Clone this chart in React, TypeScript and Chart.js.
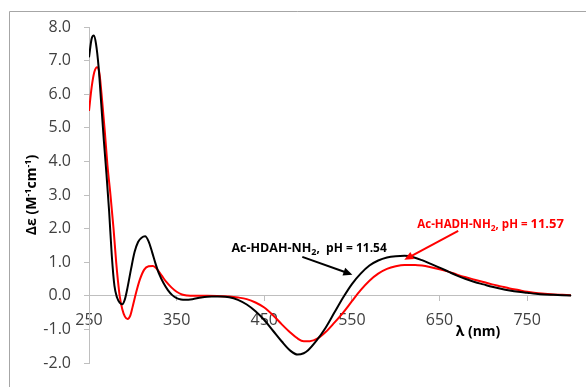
import { useEffect, useRef } from "react";
import { Chart, registerables } from "chart.js";

Chart.register(...registerables);

// Ac-HDAH-NH2, pH = 11.54 (black trace)
const hdahWavelength = [
  250, 253, 255.5, 258, 261, 264, 267, 270, 273, 276, 279, 282, 285, 288, 291, 294, 298, 302, 306, 310,
  314, 318, 322, 326, 330, 335, 340, 345, 350, 355, 360, 368, 378, 390, 400, 410, 420, 430, 440, 450,
  460, 470, 480, 488, 495, 500, 510, 520, 530, 540, 550, 560, 570, 580, 590, 600, 610, 620, 630, 640,
  650, 660, 670, 680, 690, 700, 710, 720, 730, 740, 750, 760, 770, 780, 790, 800,
];
const hdahDelta = [
  7.1, 7.65, 7.75, 7.5, 6.8, 5.7, 4.6, 3.6, 2.5, 1.2, 0.3, -0.05, -0.2, -0.25, -0.1, 0.25, 0.8, 1.3, 1.6, 1.73,
  1.77, 1.62, 1.3, 0.95, 0.65, 0.38, 0.17, 0.02, -0.07, -0.11, -0.12, -0.1, -0.05, -0.02, -0.02, -0.04, -0.12, -0.26, -0.46, -0.72,
  -1.04, -1.36, -1.64, -1.75, -1.71, -1.62, -1.32, -0.95, -0.5, -0.05, 0.35, 0.66, 0.9, 1.05, 1.14, 1.18, 1.19, 1.15, 1.06, 0.95,
  0.84, 0.72, 0.6, 0.5, 0.41, 0.34, 0.27, 0.21, 0.16, 0.12, 0.09, 0.06, 0.04, 0.03, 0.02, 0.01,
];

// Ac-HADH-NH2, pH = 11.57 (red trace)
const hadhWavelength = [
  250, 253, 256, 259.3, 262, 265, 268, 271, 274.5, 278, 281, 283, 285, 288, 291, 294, 297, 300, 304, 308,
  313, 318, 323, 328, 333, 338, 344, 350, 356, 362, 370, 385, 400, 410, 420, 430, 440, 450, 460, 470,
  480, 488, 495, 502, 511, 520, 530, 540, 550, 560, 570, 580, 590, 600, 610, 622, 630, 640, 650,
  660, 670, 680, 690, 700, 710, 720, 730, 740, 750, 760, 770, 780, 790, 800,
];
const hadhDelta = [
  5.5, 6.2, 6.65, 6.8, 6.6, 5.8, 4.9, 3.9, 3.0, 2.0, 1.0, 0.45, 0.0, -0.4, -0.62, -0.69, -0.6, -0.3, 0.12, 0.48,
  0.78, 0.88, 0.89, 0.78, 0.6, 0.42, 0.25, 0.12, 0.04, 0.01, 0.0, 0.0, -0.01, -0.02, -0.05, -0.1, -0.2, -0.35, -0.58, -0.85,
  -1.1, -1.27, -1.35, -1.35, -1.27, -1.08, -0.8, -0.5, -0.16, 0.17, 0.45, 0.66, 0.8, 0.88, 0.92, 0.92, 0.9, 0.85, 0.79,
  0.72, 0.63, 0.55, 0.48, 0.41, 0.34, 0.28, 0.22, 0.17, 0.12, 0.08, 0.06, 0.04, 0.03, 0.02,
];

const xTickValues = [250, 350, 450, 550, 650, 750];
const xMin = 250;
const xMax = 800;
const yMin = -2;
const yMax = 8;

const FONT = "'Open Sans', 'DejaVu Sans', sans-serif";
const AXIS_GRAY = "#bfbfbf";
const LABEL_GRAY = "#404040";

type Run = { text: string; size: number; dy?: number };

function drawRuns(ctx: CanvasRenderingContext2D, runs: Run[], x: number, y: number, color: string) {
  ctx.save();
  ctx.fillStyle = color;
  ctx.textBaseline = "alphabetic";
  ctx.textAlign = "left";
  let cx = x;
  for (const r of runs) {
    ctx.font = `bold ${r.size}px ${FONT}`;
    ctx.fillText(r.text, cx, y + (r.dy || 0));
    cx += ctx.measureText(r.text).width;
  }
  ctx.restore();
}

function drawArrow(ctx: CanvasRenderingContext2D, x1: number, y1: number, x2: number, y2: number, color: string) {
  const ang = Math.atan2(y2 - y1, x2 - x1);
  const head = 9;
  const half = 4;
  ctx.save();
  ctx.strokeStyle = color;
  ctx.fillStyle = color;
  ctx.lineWidth = 2;
  ctx.beginPath();
  ctx.moveTo(x1, y1);
  ctx.lineTo(x2 - Math.cos(ang) * head * 0.8, y2 - Math.sin(ang) * head * 0.8);
  ctx.stroke();
  ctx.beginPath();
  ctx.moveTo(x2, y2);
  ctx.lineTo(x2 - Math.cos(ang) * head - Math.sin(ang) * half, y2 - Math.sin(ang) * head + Math.cos(ang) * half);
  ctx.lineTo(x2 - Math.cos(ang) * head + Math.sin(ang) * half, y2 - Math.sin(ang) * head - Math.cos(ang) * half);
  ctx.closePath();
  ctx.fill();
  ctx.restore();
}

const decorations = {
  id: "decorations",
  beforeDraw(chart: any) {
    const ctx = chart.ctx as CanvasRenderingContext2D;
    ctx.save();
    ctx.fillStyle = "#ffffff";
    ctx.fillRect(0, 0, chart.width, chart.height);
    ctx.strokeStyle = "#a6a6a6";
    ctx.lineWidth = 1;
    ctx.beginPath();
    ctx.moveTo(9.5, chart.height);
    ctx.lineTo(9.5, 11.5);
    ctx.lineTo(chart.width, 11.5);
    ctx.stroke();
    ctx.restore();
  },
  afterDatasetsDraw(chart: any) {
    const ctx = chart.ctx as CanvasRenderingContext2D;
    const xs = chart.scales.x;
    const ys = chart.scales.y;
    const px = (v: number) => xs.getPixelForValue(v);
    const py = (v: number) => ys.getPixelForValue(v);

    // y axis title, rotated
    ctx.save();
    ctx.translate(31, (chart.chartArea.top + chart.chartArea.bottom) / 2);
    ctx.rotate(-Math.PI / 2);
    const titleRuns: Run[] = [
      { text: "Δε (M", size: 14 },
      { text: "-1", size: 9, dy: -5 },
      { text: "cm", size: 14 },
      { text: "-1", size: 9, dy: -5 },
      { text: ")", size: 14 },
    ];
    let w = 0;
    for (const r of titleRuns) {
      ctx.font = `bold ${r.size}px ${FONT}`;
      w += ctx.measureText(r.text).width;
    }
    drawRuns(ctx, titleRuns, -w / 2, 5, "#000000");
    ctx.restore();

    // x axis title
    ctx.save();
    ctx.font = `bold 14px ${FONT}`;
    ctx.fillStyle = "#000000";
    ctx.textAlign = "center";
    ctx.textBaseline = "middle";
    ctx.fillText("λ (nm)", 478, 332);
    ctx.restore();

    // series labels with arrows
    drawRuns(
      ctx,
      [
        { text: "Ac-HDAH-NH", size: 12.5 },
        { text: "2", size: 9, dy: 3 },
        { text: ",  pH = 11.54", size: 12 },
      ],
      px(412.5),
      py(1.29),
      "#000000"
    );
    drawArrow(ctx, px(493.4), py(1.16), px(550.5), py(0.63), "#000000");

    drawRuns(
      ctx,
      [
        { text: "Ac-HADH-NH", size: 11.5 },
        { text: "2", size: 8.5, dy: 3 },
        { text: ", pH = ", size: 11.5 },
        { text: "11.57", size: 13 },
      ],
      px(624.6),
      py(2.03),
      "#ff0000"
    );
    drawArrow(ctx, px(671.3), py(1.93), px(609.8), py(1.07), "#ff0000");
  },
};

export default function App() {
  const canvasRef = useRef<HTMLCanvasElement | null>(null);

  useEffect(() => {
    const canvas = canvasRef.current;
    if (!canvas) return;
    Chart.defaults.font.family = FONT;

    const chart = new Chart(canvas, {
      type: "line",
      data: {
        datasets: [
          {
            label: "Ac-HDAH-NH2, pH = 11.54",
            data: hdahWavelength.map((x, i) => ({ x, y: hdahDelta[i] })),
            borderColor: "#000000",
            borderWidth: 2,
            pointRadius: 0,
            cubicInterpolationMode: "monotone",
            fill: false,
          },
          {
            label: "Ac-HADH-NH2, pH = 11.57",
            data: hadhWavelength.map((x, i) => ({ x, y: hadhDelta[i] })),
            borderColor: "#ff0000",
            borderWidth: 2,
            pointRadius: 0,
            cubicInterpolationMode: "monotone",
            fill: false,
          },
        ],
      },
      options: {
        animation: false,
        responsive: false,
        maintainAspectRatio: false,
        layout: { padding: { left: 0, top: 27, right: 15, bottom: 24 } },
        plugins: {
          legend: { display: false },
          tooltip: { enabled: false },
          title: { display: false },
        },
        scales: {
          x: {
            type: "linear",
            position: { y: 0 } as any,
            min: xMin,
            max: xMax,
            afterBuildTicks: (scale: any) => {
              scale.ticks = xTickValues.map((value) => ({ value }));
            },
            ticks: {
              color: LABEL_GRAY,
              font: { size: 16 },
              padding: 10,
              maxRotation: 0,
              autoSkip: false,
              callback: (v: any) => String(v),
            },
            grid: {
              drawOnChartArea: false,
              drawTicks: true,
              tickLength: 5,
              color: AXIS_GRAY,
            },
            border: { color: AXIS_GRAY, width: 1 },
          },
          y: {
            type: "linear",
            position: "left",
            min: yMin,
            max: yMax,
            afterFit: (scale: any) => {
              scale.width = 89;
            },
            ticks: {
              stepSize: 1,
              color: LABEL_GRAY,
              font: { size: 16 },
              padding: 13,
              callback: (v: any) => Number(v).toFixed(1),
            },
            grid: {
              drawOnChartArea: false,
              drawTicks: true,
              tickLength: 5,
              color: AXIS_GRAY,
            },
            border: { color: AXIS_GRAY, width: 1 },
          },
        },
      },
      plugins: [decorations],
    });

    return () => chart.destroy();
  }, []);

  return (
    <div style={{ position: "fixed", left: 0, top: 0, width: 586, height: 387, background: "#ffffff" }}>
      <canvas ref={canvasRef} width={586} height={387} style={{ width: 586, height: 387, display: "block" }} />
    </div>
  );
}
